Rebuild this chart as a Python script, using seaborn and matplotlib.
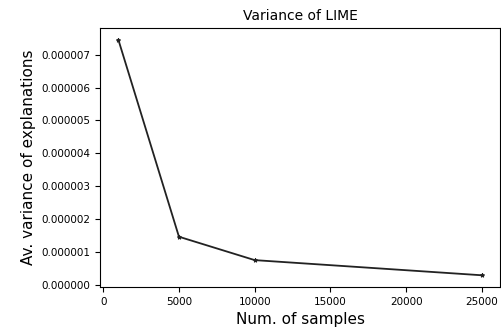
import matplotlib
matplotlib.use("Agg")
import matplotlib.pyplot as plt
import seaborn as sns
import pandas as pd

samples = [1000, 5000, 10000, 25000]
variance = [7.45e-6, 1.47e-6, 0.76e-6, 0.30e-6]

df = pd.DataFrame({"samples": samples, "variance": variance})

fig = plt.figure(figsize=(5.01, 3.33), dpi=100)
ax = fig.add_axes([0.2, 0.138, 0.798, 0.778])
sns.lineplot(data=df, x="samples", y="variance", ax=ax, color="#222222",
             marker="*", markersize=3, linewidth=1.3, markeredgecolor="#222222")
ax.set_title("Variance of LIME", fontsize=10)
ax.set_xlabel("Num. of samples", fontsize=11)
ax.set_ylabel("Av. variance of explanations", fontsize=11)
ax.set_yticks([i * 1e-6 for i in range(8)])
ax.set_yticklabels([f"{i*1e-6:.6f}" for i in range(8)])
ax.set_xticks([0, 5000, 10000, 15000, 20000, 25000])
ax.tick_params(labelsize=7.5)
fig.savefig("out.png", dpi=100)
